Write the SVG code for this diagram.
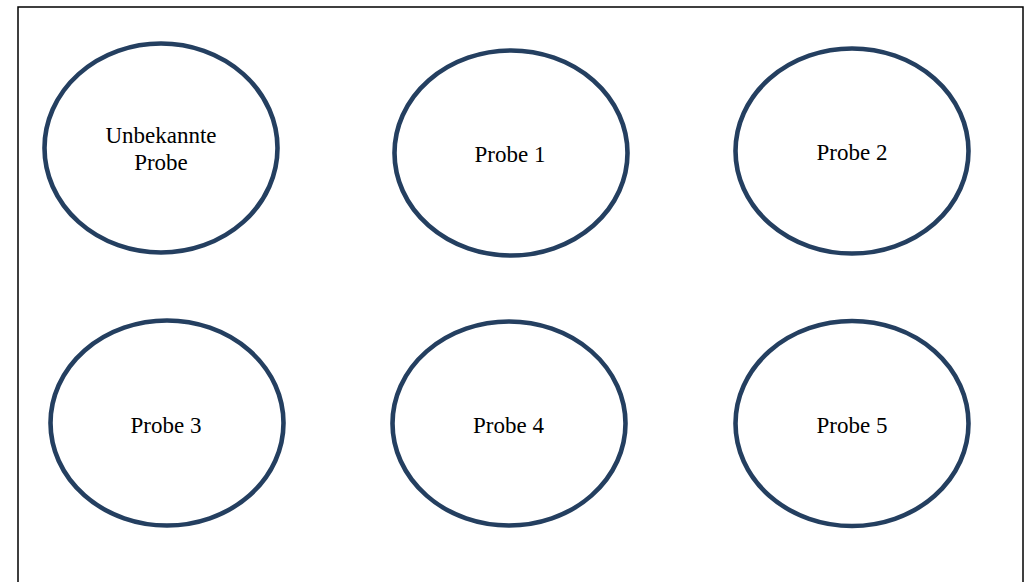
<svg xmlns="http://www.w3.org/2000/svg" width="1027" height="582" viewBox="0 0 1027 582">
<style>
.frame{fill:#fff;stroke:#000;stroke-width:1.5}
.node ellipse{fill:#fff;stroke:#243f60;stroke-width:4.6}
.node text{font-family:"Liberation Serif","Times New Roman",serif;font-size:23px;fill:#000;text-anchor:middle}
</style>
<rect width="1027" height="582" fill="#fff"/>
<rect class="frame" x="18" y="7" width="1005" height="600"/>
<g id="connectors"/>
<g id="unbekannte" class="node">
<ellipse cx="161" cy="148" rx="116.5" ry="104.5"/>
<text x="161" y="143">Unbekannte</text>
<text x="161" y="170">Probe</text>
</g>
<g id="probe1" class="node">
<ellipse cx="511" cy="153" rx="116.5" ry="102.5"/>
<text x="510" y="162">Probe 1</text>
</g>
<g id="probe2" class="node">
<ellipse cx="852" cy="151" rx="116.5" ry="102.5"/>
<text x="852" y="160">Probe 2</text>
</g>
<g id="probe3" class="node">
<ellipse cx="167" cy="423" rx="116.5" ry="102.5"/>
<text x="166" y="433">Probe 3</text>
</g>
<g id="probe4" class="node">
<ellipse cx="509" cy="423.5" rx="116.5" ry="102"/>
<text x="508.5" y="433">Probe 4</text>
</g>
<g id="probe5" class="node">
<ellipse cx="852" cy="423.5" rx="116.5" ry="102.5"/>
<text x="852" y="433">Probe 5</text>
</g>
</svg>
